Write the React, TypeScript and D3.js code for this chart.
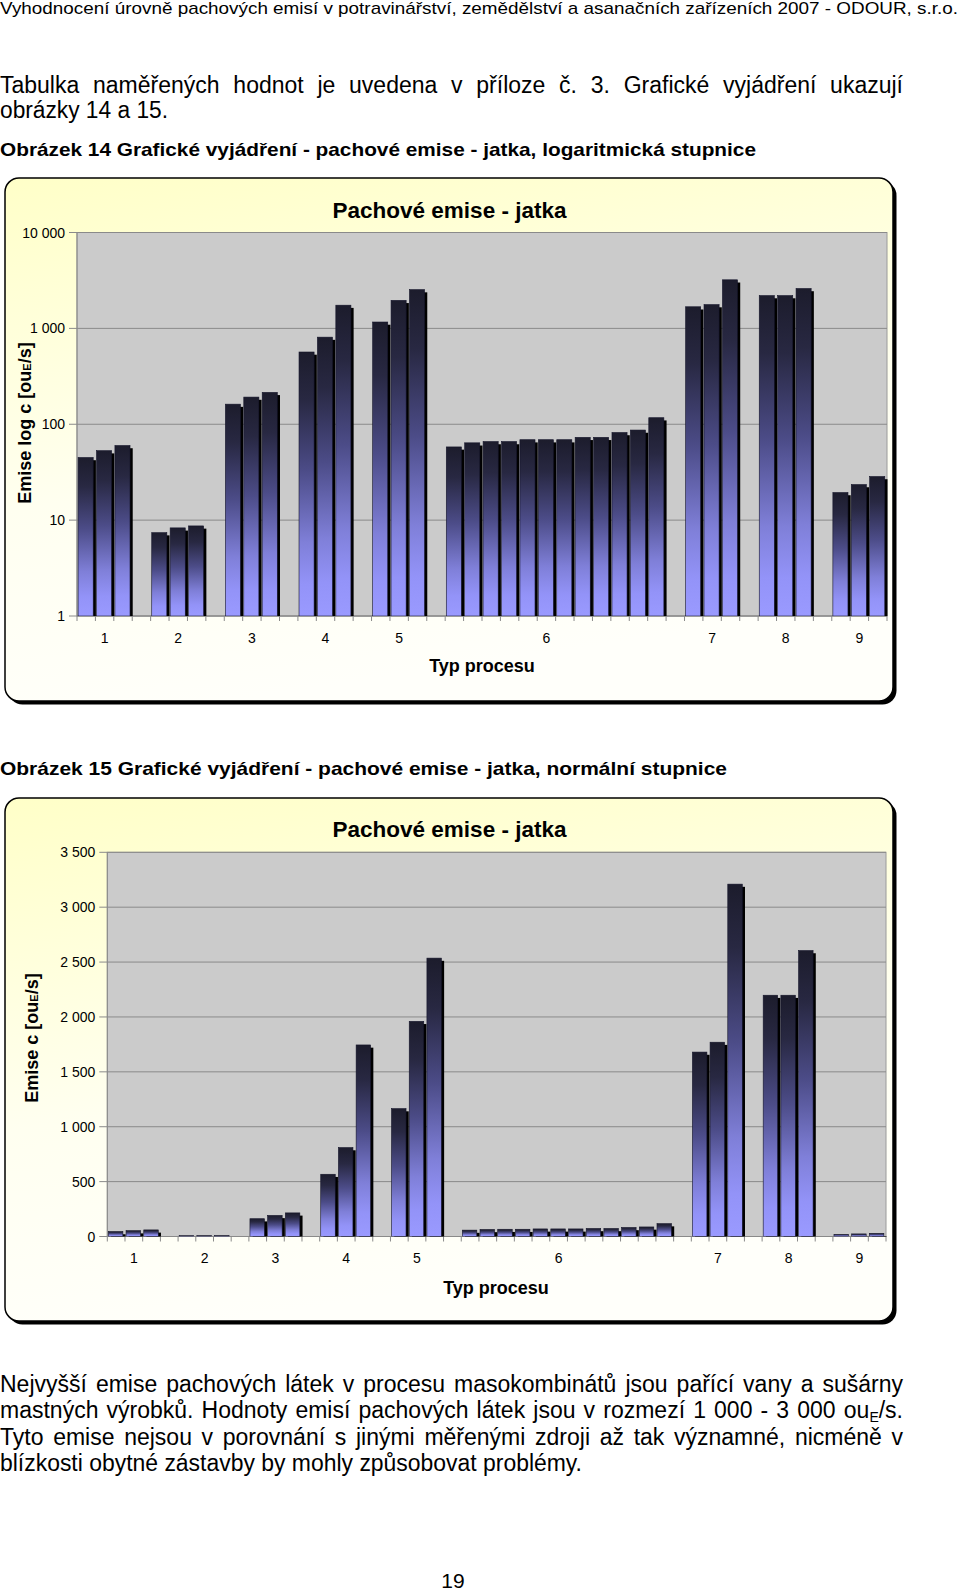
import React, { useLayoutEffect, useRef, useState } from "react";
import * as d3 from "d3";

// ---------- page texts ----------
const pageHeader =
  "Vyhodnocení úrovně pachových emisí v potravinářství, zemědělství a asanačních zařízeních  2007 - ODOUR, s.r.o.";
const introLines = [
  "Tabulka naměřených hodnot je uvedena v příloze č. 3. Grafické vyjádření ukazují",
  "obrázky 14 a 15.",
];
const caption14 = "Obrázek 14 Grafické vyjádření - pachové emise - jatka, logaritmická stupnice";
const caption15 = "Obrázek 15 Grafické vyjádření - pachové emise - jatka,  normální stupnice";
const chartTitle = "Pachové emise - jatka";
const xAxisTitle = "Typ procesu";
const pageNumber = "19";

// ---------- data ----------
const processTypes = ["1", "2", "3", "4", "5", "6", "7", "8", "9"];
const type1 = [45, 53, 60];
const type2 = [7.4, 8.3, 8.7];
const type3 = [162, 192, 215];
const type4 = [567, 810, 1745];
const type5 = [1165, 1960, 2536];
const type6 = [58, 64, 66, 66, 69, 69, 69, 73, 73, 82, 87, 117];
const type7 = [1680, 1770, 3210];
const type8 = [2198, 2198, 2605];
const type9 = [19.4, 23.5, 28.5];
const typeValues = [type1, type2, type3, type4, type5, type6, type7, type8, type9];
// which bar of each group carries the category label
const labelBarIndex = [1, 1, 1, 1, 1, 5, 1, 1, 1];

const logTicks = [1, 10, 100, 1000, 10000];
const linearTicks = [0, 500, 1000, 1500, 2000, 2500, 3000, 3500];

type Cat = { key: string; value: number | null; label: string };
const categories: Cat[] = [];
processTypes.forEach((t, gi) => {
  typeValues[gi].forEach((v, i) => {
    categories.push({ key: `${t}-${i}`, value: v, label: i === labelBarIndex[gi] ? t : "" });
  });
  if (gi < processTypes.length - 1) categories.push({ key: `gap-${t}`, value: null, label: "" });
});

const fmt = (v: number) => d3.format(",")(v).replace(/,/g, " ");
const FONT = "'Liberation Sans', Arial, Helvetica, sans-serif";
const BODY = 23;

// a line of text justified to a given width by widening word spaces
function JustifiedLine(props: { x: number; y: number; width: number; fontSize: number; children: React.ReactNode; spaces: number }) {
  const ref = useRef<SVGTextElement>(null);
  const [ws, setWs] = useState(0);
  useLayoutEffect(() => {
    if (!ref.current) return;
    const el = ref.current;
    el.setAttribute("word-spacing", "0");
    const natural = el.getComputedTextLength();
    setWs((props.width - natural) / props.spaces);
  }, [props.width, props.spaces]);
  return (
    <text ref={ref} x={props.x} y={props.y} fontSize={props.fontSize} wordSpacing={ws}>
      {props.children}
    </text>
  );
}

type ChartProps = {
  id: string;
  frameY: number;
  plotLeft: number;
  plotRight: number;
  plotTop: number;
  plotBottom: number;
  log: boolean;
  titleY: number;
  yTitle: string;
  yTitleX: number;
  yTitleY: number;
  xLabelY: number;
  xTitleX: number;
  xTitleY: number;
};

function Chart(p: ChartProps) {
  const x = d3
    .scaleBand<string>()
    .domain(categories.map((c) => c.key))
    .range([p.plotLeft, p.plotRight])
    .paddingInner(0)
    .paddingOuter(0);
  const y: any = p.log
    ? d3.scaleLog().domain([1, 10000]).range([p.plotBottom, p.plotTop])
    : d3.scaleLinear().domain([0, 3500]).range([p.plotBottom, p.plotTop]);
  const ticks = p.log ? logTicks : linearTicks;
  const bw = x.bandwidth();
  const faceW = bw * 0.82;
  const faceOff = bw * 0.06;
  const sh = 2.7;
  const fx = 5, fw = 888, fh = 523;
  const boundaries = d3.range(categories.length + 1).map((i) => p.plotLeft + i * bw);

  return (
    <g>
      <defs>
        <linearGradient id={`${p.id}-bg`} x1="0" y1="0" x2="0.25" y2="1">
          <stop offset="0" stopColor="#ffffc8" />
          <stop offset="0.6" stopColor="#fffff0" />
          <stop offset="1" stopColor="#fffffa" />
        </linearGradient>
        <linearGradient id={`${p.id}-bar`} x1="0" y1="0" x2="0" y2="1">
          <stop offset="0" stopColor="#1c1c2c" />
          <stop offset="0.18" stopColor="#282842" />
          <stop offset="0.45" stopColor="#4c4c88" />
          <stop offset="0.72" stopColor="#7f7fd8" />
          <stop offset="0.88" stopColor="#9393f8" />
          <stop offset="1" stopColor="#9a9aff" />
        </linearGradient>
        <clipPath id={`${p.id}-clip`}>
          <rect x={p.plotLeft} y={p.plotTop - 10} width={p.plotRight - p.plotLeft + 6} height={p.plotBottom - p.plotTop + 10} />
        </clipPath>
      </defs>
      {/* frame */}
      <rect x={fx + 3.5} y={p.frameY + 3.5} width={fw} height={fh} rx={14} fill="#000" />
      <rect x={fx} y={p.frameY} width={fw} height={fh} rx={14} fill={`url(#${p.id}-bg)`} stroke="#000" strokeWidth={1.5} />
      {/* plot area */}
      <rect x={p.plotLeft} y={p.plotTop} width={p.plotRight - p.plotLeft} height={p.plotBottom - p.plotTop} fill="#cbcbcb" stroke="#9a9a9a" strokeWidth={1} />
      {ticks.map((t) => (
        <line key={t} x1={p.plotLeft - 8} x2={p.plotRight} y1={y(t)} y2={y(t)} stroke="#8a8a8a" strokeWidth={1} />
      ))}
      {ticks.map((t) => (
        <text key={`l${t}`} x={p.plotLeft - 12} y={y(t) + 5} textAnchor="end" fontSize={14} fontFamily={FONT} fill="#000">
          {fmt(t)}
        </text>
      ))}
      {/* axes */}
      <line x1={p.plotLeft} x2={p.plotLeft} y1={p.plotTop} y2={p.plotBottom} stroke="#8a8a8a" />
      <line x1={p.plotLeft} x2={p.plotRight} y1={p.plotBottom} y2={p.plotBottom} stroke="#8a8a8a" />
      {boundaries.map((bx, i) => (
        <line key={`t${i}`} x1={bx} x2={bx} y1={p.plotBottom} y2={p.plotBottom + 5} stroke="#8a8a8a" />
      ))}
      {/* bars */}
      <g clipPath={`url(#${p.id}-clip)`}>
        {categories.map((c) => {
          if (c.value == null) return null;
          const top = y(c.value);
          const h = p.plotBottom - top;
          const bx = (x(c.key) as number) + faceOff;
          return (
            <g key={c.key}>
              <rect x={bx + sh} y={top + sh} width={faceW} height={h} fill="#000" />
              <rect x={bx} y={top} width={faceW} height={h} fill={`url(#${p.id}-bar)`} stroke="#14142a" strokeWidth={0.6} />
            </g>
          );
        })}
      </g>
      {/* category labels */}
      {categories.map((c) =>
        c.label ? (
          <text key={`c${c.key}`} x={(x(c.key) as number) + bw / 2} y={p.xLabelY} textAnchor="middle" fontSize={14} fontFamily={FONT}>
            {c.label}
          </text>
        ) : null
      )}
      <text x={449.5} y={p.titleY} textAnchor="middle" fontSize={22.5} fontWeight="bold" fontFamily={FONT}>
        {chartTitle}
      </text>
      <text x={p.xTitleX} y={p.xTitleY} textAnchor="middle" fontSize={18} fontWeight="bold" fontFamily={FONT}>
        {xAxisTitle}
      </text>
      <text transform={`translate(${p.yTitleX},${p.yTitleY}) rotate(-90)`} textAnchor="middle" fontSize={18} fontWeight="bold" fontFamily={FONT}>
        {p.yTitle}
        [ou<tspan fontSize={11}>E</tspan>/s]
      </text>
    </g>
  );
}

export default function App() {
  return (
    <svg
      width={960}
      height={1596}
      viewBox="0 0 960 1596"
      style={{ position: "absolute", left: 0, top: 0, background: "#fff" }}
      fontFamily={FONT}
    >
      <rect x={0} y={0} width={960} height={1596} fill="#fff" />
      <text x={0} y={14} fontSize={17} textLength={958} lengthAdjust="spacingAndGlyphs">
        {pageHeader}
      </text>
      <JustifiedLine x={0} y={92.5} width={903} fontSize={BODY} spaces={11}>
        {introLines[0]}
      </JustifiedLine>
      <text x={0} y={118} fontSize={BODY} textLength={168} lengthAdjust="spacingAndGlyphs">
        {introLines[1]}
      </text>
      <text x={0} y={156} fontSize={18.5} fontWeight="bold" textLength={756} lengthAdjust="spacingAndGlyphs">
        {caption14}
      </text>
      <Chart
        id="c1"
        frameY={178}
        plotLeft={77}
        plotRight={887}
        plotTop={232.5}
        plotBottom={616}
        log={true}
        titleY={218.3}
        yTitle="Emise log c "
        yTitleX={31}
        yTitleY={423}
        xLabelY={642.7}
        xTitleX={482}
        xTitleY={672}
      />
      <text x={0} y={775} fontSize={18.5} fontWeight="bold" textLength={727} lengthAdjust="spacingAndGlyphs">
        {caption15}
      </text>
      <Chart
        id="c2"
        frameY={798}
        plotLeft={107.3}
        plotRight={886}
        plotTop={852.3}
        plotBottom={1236.5}
        log={false}
        titleY={836.7}
        yTitle="Emise c "
        yTitleX={38}
        yTitleY={1038}
        xLabelY={1262.7}
        xTitleX={496}
        xTitleY={1294}
      />
      <JustifiedLine x={0} y={1391.5} width={903} fontSize={BODY} spaces={11}>
        Nejvyšší emise pachových látek v procesu masokombinátů jsou pařící vany a sušárny
      </JustifiedLine>
      <JustifiedLine x={0} y={1418} width={903} fontSize={BODY} spaces={14}>
        mastných výrobků. Hodnoty emisí pachových látek jsou v rozmezí 1 000 - 3 000 ou
        <tspan fontSize={14} dy={4}>E</tspan>
        <tspan dy={-4}>/s.</tspan>
      </JustifiedLine>
      <JustifiedLine x={0} y={1444.5} width={903} fontSize={BODY} spaces={13}>
        Tyto emise nejsou v porovnání s jinými měřenými zdroji až tak významné, nicméně v
      </JustifiedLine>
      <text x={0} y={1471} fontSize={BODY} textLength={582} lengthAdjust="spacingAndGlyphs">
        blízkosti obytné zástavby by mohly způsobovat problémy.
      </text>
      <text x={453} y={1588} fontSize={21} textAnchor="middle">
        {pageNumber}
      </text>
    </svg>
  );
}
